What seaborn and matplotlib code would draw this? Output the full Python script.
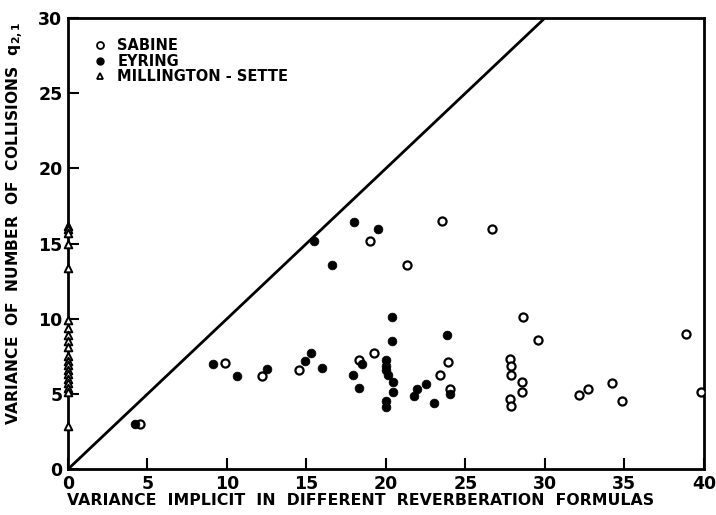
import matplotlib
matplotlib.use("Agg")
import matplotlib.pyplot as plt
import seaborn as sns
import pandas as pd
from matplotlib.lines import Line2D

sns.set_theme(style="white")
plt.rcParams['font.family'] = ['DejaVu Sans']
plt.rcParams['text.color'] = 'black'
plt.rcParams['axes.labelcolor'] = 'black'
plt.rcParams['xtick.color'] = 'black'
plt.rcParams['ytick.color'] = 'black'

# Data
sabine_x = [4.5, 9.9, 12.2, 14.5, 18.3, 19.25, 19.0, 21.3, 23.5, 26.7, 23.9, 23.4, 24.05,
            28.6, 29.55, 27.8, 27.85, 27.9, 28.55, 28.55, 27.8, 27.9,
            32.15, 32.7, 34.2, 34.85, 38.9, 39.8]
sabine_y = [3.0, 7.05, 6.2, 6.6, 7.25, 7.7, 15.15, 13.6, 16.5, 15.95, 7.15, 6.25, 5.35,
            10.1, 8.6, 7.3, 6.85, 6.25, 5.8, 5.15, 4.65, 4.2,
            4.9, 5.3, 5.7, 4.5, 9.0, 5.1]

eyring_x = [4.2, 9.15, 10.6, 12.5, 14.9, 15.3, 16.0, 15.5, 18.0, 19.5, 16.6,
            20.4, 20.4, 18.5, 17.95, 18.3, 20.0, 20.0, 20.0, 20.15, 20.45, 20.45,
            20.0, 20.0, 21.75, 21.95, 22.5, 23.0, 23.85, 24.0]
eyring_y = [3.0, 7.0, 6.2, 6.65, 7.2, 7.7, 6.7, 15.2, 16.45, 15.95, 13.6,
            10.1, 8.5, 7.0, 6.25, 5.4, 7.25, 6.85, 6.6, 6.25, 5.8, 5.1,
            4.5, 4.15, 4.85, 5.3, 5.65, 4.4, 8.9, 5.0]

ms_x = [0.0] * 20
ms_y = [16.2, 15.95, 15.7, 15.0, 13.35, 9.95, 9.4, 8.9, 8.5, 8.15,
        7.5, 7.2, 6.9, 6.6, 6.3, 6.0, 5.7, 5.4, 5.1, 2.9]

line_x = [0, 40]
line_y = [0, 40]

x_ticks = [0, 5, 10, 15, 20, 25, 30, 35, 40]
y_ticks = [0, 5, 10, 15, 20, 25, 30]

df = pd.concat([
    pd.DataFrame({"x": sabine_x, "y": sabine_y, "f": "SABINE"}),
    pd.DataFrame({"x": eyring_x, "y": eyring_y, "f": "EYRING"}),
    pd.DataFrame({"x": ms_x, "y": ms_y, "f": "MILLINGTON-SETTE"}),
], ignore_index=True)

fig = plt.figure(figsize=(7.16, 5.15), dpi=100)
ax = fig.add_axes([0.095, 0.089, 0.888, 0.876])

sns.lineplot(x=line_x, y=line_y, ax=ax, color="black", linewidth=2.0)

sub = df[df.f == "SABINE"]
sns.scatterplot(data=sub, x="x", y="y", ax=ax, marker="o", s=34,
                facecolor="white", edgecolor="black", linewidth=1.6, zorder=3)
sub = df[df.f == "EYRING"]
sns.scatterplot(data=sub, x="x", y="y", ax=ax, marker="o", s=40,
                color="black", edgecolor="black", linewidth=0.5, zorder=3)
sub = df[df.f == "MILLINGTON-SETTE"]
sns.scatterplot(data=sub, x="x", y="y", ax=ax, marker="^", s=30,
                facecolor="white", edgecolor="black", linewidth=1.4, zorder=3,
                clip_on=False)

ax.set_xlim(0, 40)
ax.set_ylim(0, 30)
ax.set_xticks(x_ticks)
ax.set_yticks(y_ticks)
ax.tick_params(direction="in", length=8, width=1.5, labelsize=12.5, pad=4,
               colors="black", bottom=True, left=True)
for lab in ax.get_xticklabels() + ax.get_yticklabels():
    lab.set_fontweight("bold")
for sp in ax.spines.values():
    sp.set_linewidth(2.0)
    sp.set_color("black")

ax.set_xlabel("VARIANCE  IMPLICIT  IN  DIFFERENT  REVERBERATION  FORMULAS",
              fontsize=11.3, fontweight="bold", labelpad=5)
ax.xaxis.set_label_coords(0.46, -0.053)
ax.set_ylabel(r"VARIANCE  OF  NUMBER  OF  COLLISIONS  $\mathbf{q_{2,1}}$",
              fontsize=11.2, fontweight="bold", labelpad=8)
ax.yaxis.set_label_coords(-0.066, 0.545)

handles = [
    Line2D([], [], marker="o", linestyle="", markersize=5, markerfacecolor="white",
           markeredgecolor="black", markeredgewidth=1.3),
    Line2D([], [], marker="o", linestyle="", markersize=5, markerfacecolor="black",
           markeredgecolor="black"),
    Line2D([], [], marker="^", linestyle="", markersize=5, markerfacecolor="white",
           markeredgecolor="black", markeredgewidth=1.3),
]
leg = ax.legend(handles, ["SABINE", "EYRING", "MILLINGTON - SETTE"],
                loc="upper left", bbox_to_anchor=(0.02, 0.985), frameon=False,
                handlelength=0.8, handletextpad=0.8, labelspacing=0.05,
                prop={"weight": "bold", "size": 10.5})

fig.savefig("out.png", dpi=100)
